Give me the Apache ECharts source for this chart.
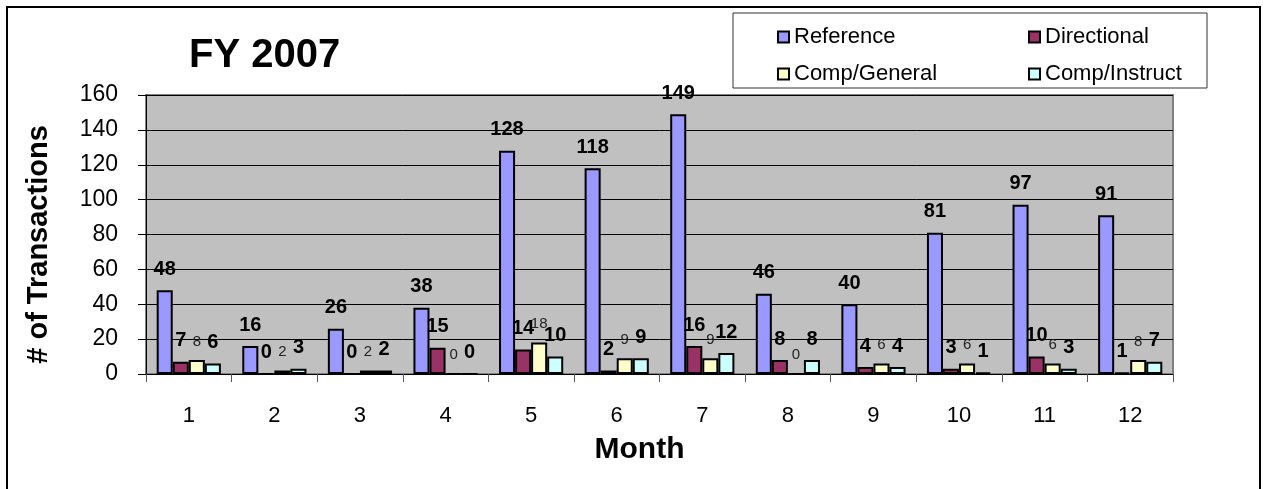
<!DOCTYPE html>
<html>
<head>
<meta charset="utf-8">
<script src="https://cdn.jsdelivr.net/npm/echarts@6/dist/echarts.min.js"></script>
<style>
html,body{margin:0;padding:0;background:#fff;}
#chart{width:1264px;height:489px;}
</style>
</head>
<body>
<div id="chart"></div>
<script>
var months = ['1','2','3','4','5','6','7','8','9','10','11','12'];
var reference = [48, 16, 26, 38, 128, 118, 149, 46, 40, 81, 97, 91];
var directional = [7, 0, 0, 15, 14, 2, 16, 8, 4, 3, 10, 1];
var compGeneral = [8, 2, 2, 0, 18, 9, 9, 0, 6, 6, 6, 8];
var compInstruct = [6, 3, 2, 0, 10, 9, 12, 8, 4, 1, 3, 7];
var yTicks = {min: 0, max: 160, interval: 20};

var FONT = '"Liberation Sans", Arial, sans-serif';
var chart = echarts.init(document.getElementById('chart'));

function barSeries(name, data, color, labelStyle) {
  return {
    name: name,
    type: 'bar',
    data: data,
    barGap: '0%',
    barCategoryGap: '25%',
    itemStyle: {color: color, borderColor: '#000', borderWidth: 2},
    label: Object.assign({
      show: true, position: 'top', distance: 11,
      color: '#000', fontFamily: FONT
    }, labelStyle)
  };
}

var boldLabel = {fontSize: 20, fontWeight: 'bold'};
var smallLabel = {fontSize: 15, fontWeight: 'normal', color: '#222'};

function legendItem(name, left, top) {
  return {
    data: [name], left: left, top: top, orient: 'horizontal',
    icon: 'rect', itemWidth: 11, itemHeight: 11, itemGap: 0,
    padding: 0,
    itemStyle: {borderColor: '#000', borderWidth: 2},
    textStyle: {fontFamily: FONT, fontSize: 22, color: '#000'},
    selectedMode: false
  };
}

chart.setOption({
  animation: false,
  backgroundColor: '#fff',
  textStyle: {fontFamily: FONT},
  title: {
    text: 'FY 2007', left: 184, top: 31,
    textStyle: {fontFamily: FONT, fontSize: 40, fontWeight: 'bold', color: '#000'}
  },
  graphic: [
    {type: 'rect', shape: {x: 7, y: 7, width: 1253, height: 495},
     style: {fill: 'none', stroke: '#000', lineWidth: 2}, silent: true, z: 100},
    {type: 'rect', shape: {x: 733, y: 13, width: 474, height: 75},
     style: {fill: '#fff', stroke: '#333', lineWidth: 1}, silent: true, z: 0}
  ],
  legend: [
    legendItem('Reference', 777, 26),
    legendItem('Directional', 1028, 26),
    legendItem('Comp/General', 777, 63),
    legendItem('Comp/Instruct', 1028, 63)
  ],
  grid: {
    left: 146, right: 91, top: 95, bottom: 115,
    show: true, backgroundColor: '#C0C0C0', borderColor: '#808080', borderWidth: 2
  },
  xAxis: {
    type: 'category',
    data: months,
    name: 'Month',
    nameLocation: 'middle',
    nameGap: 61,
    nameTextStyle: {fontFamily: FONT, fontSize: 30, fontWeight: 'bold', color: '#000', padding: [0, 40, 0, 0]},
    axisLine: {lineStyle: {color: '#000', width: 1}},
    axisTick: {show: true, length: 8, lineStyle: {color: '#555'}},
    axisLabel: {fontFamily: FONT, fontSize: 22, color: '#000', margin: 31}
  },
  yAxis: {
    type: 'value',
    min: yTicks.min, max: yTicks.max, interval: yTicks.interval,
    name: '# of Transactions',
    nameLocation: 'middle',
    nameGap: 93,
    nameRotate: 90,
    nameTextStyle: {fontFamily: FONT, fontSize: 29, fontWeight: 'bold', color: '#000', padding: [0, 20, 0, 0]},
    axisLine: {show: true, lineStyle: {color: '#000', width: 1}},
    axisTick: {show: true, length: 8, lineStyle: {color: '#000'}},
    axisLabel: {fontFamily: FONT, fontSize: 23, color: '#000', margin: 28},
    splitLine: {lineStyle: {color: '#000', width: 1}}
  },
  series: [
    barSeries('Reference', reference, '#9999FF', boldLabel),
    barSeries('Directional', directional, '#993366', boldLabel),
    barSeries('Comp/General', compGeneral, '#FFFFCC', smallLabel),
    barSeries('Comp/Instruct', compInstruct, '#CCFFFF', boldLabel)
  ]
});
</script>
</body>
</html>
